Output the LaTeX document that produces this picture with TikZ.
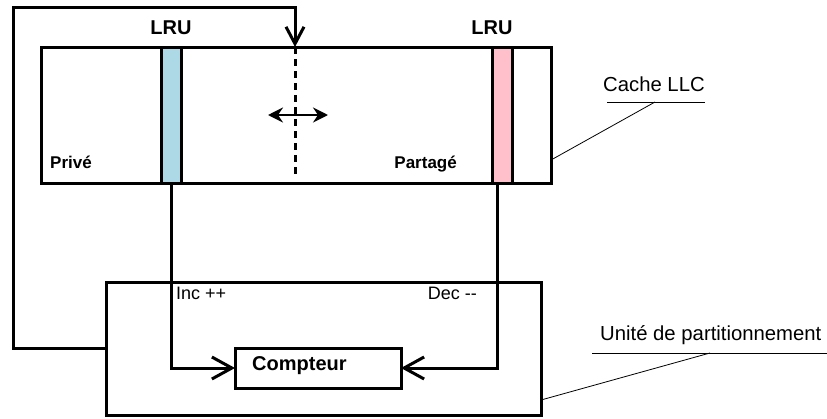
\documentclass[tikz,border=0pt]{standalone}
\usepackage{fontspec}
\setmainfont{Liberation Sans}
\usetikzlibrary{arrows.meta}
\begin{document}
\begin{tikzpicture}[x=1pt,y=1pt,
  box/.style={draw=black,line width=3pt,inner sep=0pt,outer sep=0pt},
  conn/.style={line width=3pt},
  openarr/.style={-{Straight Barb[length=20pt,width=22pt,line width=3pt]}},
  toparr/.style={-{Straight Barb[length=17pt,width=18pt,line width=3pt]}},
  dblarr/.style={line width=2.6pt,{Stealth[length=15pt,width=15pt,inset=5pt]}-{Stealth[length=15pt,width=15pt,inset=5pt]}},
  lead/.style={line width=0.8pt},
  bigb/.style={font=\fontsize{20}{24}\selectfont\bfseries,inner sep=0pt},
  smallb/.style={font=\fontsize{17}{20}\selectfont\bfseries,inner sep=0pt},
  bigr/.style={font=\fontsize{20.3}{24}\selectfont,inner sep=0pt},
  smallr/.style={font=\fontsize{18}{21}\selectfont,inner sep=0pt}]
\useasboundingbox (0,0) rectangle (827,-418);
% cache box
\node[box,minimum width=510pt,minimum height=136pt] (cache) at (296,-115) {};
\node[box,fill={rgb,255:red,173;green,216;blue,230},minimum width=20pt,minimum height=136pt] (blue) at (171,-115) {};
\node[box,fill={rgb,255:red,255;green,192;blue,203},minimum width=20pt,minimum height=136pt] (pink) at (502,-115) {};
% partition unit
\node[box,minimum width=435pt,minimum height=133pt] (part) at (323.5,-348.5) {};
\node[box,minimum width=166pt,minimum height=40pt] (cpt) at (318,-368) {};
% labels
\node[bigb,anchor=base] (lru1) at (171,-34) {LRU};
\node[bigb,anchor=base] (lru2) at (492,-34) {LRU};
\node[smallb,anchor=base west] (prive) at (50,-168) {Privé};
\node[smallb,anchor=base east] (partage) at (457,-168) {Partagé};
\node[bigb,anchor=base west] (cptlbl) at (252,-370) {Compteur};
\node[smallr,anchor=base west] (inc) at (176,-299) {Inc ++};
\node[smallr,anchor=base east] (dec) at (477,-299) {Dec -{}-};
\node[bigr,anchor=base west] (llc) at (603,-91) {Cache LLC};
\node[bigr,anchor=base west] (unit) at (600,-340) {Unité de partitionnement};
% split line
\coordinate (splitT) at (295,-47);
\coordinate (splitB) at (295,-176);
\draw[line width=3pt,dash pattern=on 7pt off 5pt] (splitT) -- (splitB);
\coordinate (dl) at (268,-115);
\coordinate (dr) at (328,-115);
\draw[dblarr] (dl) -- (dr);
% feedback loop
\coordinate (fb) at (13,-7);
\draw[conn,toparr] (part.west) -| (fb) -| (splitT);
% counters
\draw[conn,openarr] (blue.south) |- (cpt.west);
\draw[conn,openarr] ([xshift=-5pt]pink.south) |- (cpt.east);
% leaders
\coordinate (llcA) at (607,-102);
\coordinate (llcB) at (705,-102);
\coordinate (llcM) at (655,-102);
\draw[lead] (llcA) -- (llcB);
\draw[lead] (llcM) -- (cache.east |- 0,-160);
\coordinate (uA) at (592,-353);
\coordinate (uB) at (827,-353);
\coordinate (uM) at (710,-353);
\draw[lead] (uA) -- (uB);
\draw[lead] (uM) -- (part.east |- 0,-400);
\end{tikzpicture}
\end{document}
